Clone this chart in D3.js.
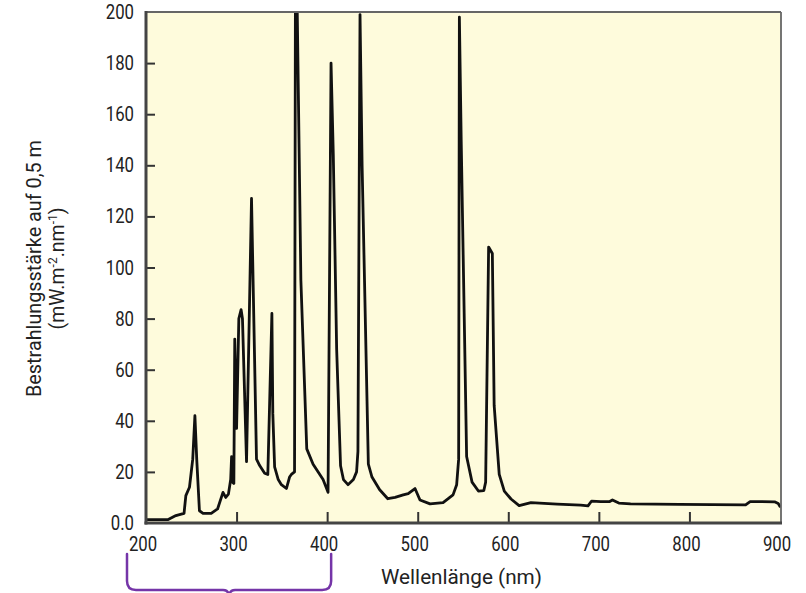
<!DOCTYPE html>
<html>
<head>
<meta charset="utf-8">
<script src="https://cdn.jsdelivr.net/npm/d3@7"></script>
<style>
  html, body { margin: 0; padding: 0; background: #ffffff; }
  svg { display: block; }
  text { font-family: "Roboto", "Liberation Sans", sans-serif; fill: #222; }
</style>
</head>
<body>
<svg id="chart" width="806" height="593"></svg>
<script>
// ---- data ----
const wavelength = [200, 224, 233, 242, 244, 248, 251.6, 254, 256, 259, 263, 272, 279, 285, 288, 291,
  293.5, 294.5, 295.5, 297, 298, 300, 302.5, 305, 306.5, 311, 316.5, 322, 325.5, 331, 334.5,
  339, 340, 342, 346, 349.5, 355, 358.5, 360.5, 364, 365, 367, 371, 377.5, 384.5, 395.5, 401,
  404.3, 406.8, 410.5, 414.8, 418, 423, 429, 432.5, 434, 436.3, 438.6, 445.5, 449.5, 458, 467,
  475, 484, 489.5, 497, 502.5, 513.6, 528, 539, 543, 545.2, 546, 548, 554, 560, 567, 573, 575,
  578.3, 582.4, 584.4, 590, 595.6, 603, 612, 625, 654, 680, 688, 692, 702, 712, 715, 722, 735,
  789, 862, 867, 894, 898, 900];
const irradiance = [1.3, 1.3, 2.9, 3.8, 10.7, 14, 25, 42, 25, 4.8, 3.8, 3.8, 5.5, 12, 10, 11.3,
  17, 26, 16, 15.5, 72, 37, 80, 83.5, 80, 24, 127, 25, 22.5, 19.5, 19,
  82, 43, 22, 17, 15, 13.5, 18, 19, 20, 212, 200, 95, 29, 23, 17, 12,
  180, 144, 68, 22.4, 17, 15, 17, 20, 28, 199, 140, 23, 18, 13, 9.5,
  10, 11, 11.5, 13.5, 9, 7.5, 8, 11, 15, 25, 198, 150, 26, 16, 12.5, 12.7, 16,
  108, 105.5, 46, 19, 12.5, 9.4, 6.8, 8, 7.4, 7, 6.7, 8.6, 8.4, 8.4, 9, 7.8, 7.5,
  7.3, 7.1, 8.4, 8.3, 7.6, 6.5];
const xTickValues = [200, 300, 400, 500, 600, 700, 800, 900];
const yTickValues = [0, 20, 40, 60, 80, 100, 120, 140, 160, 180, 200];
const xTitle = "Wellenlänge (nm)";
const yTitleLine1 = "Bestrahlungsstärke auf 0,5 m";

// ---- layout ----
const svg = d3.select("#chart");
const pL = 146, pR = 780, pT = 12, pB = 523;
const x = d3.scaleLinear().domain([200, 900]).range([pL, pR]);
const y = d3.scaleLinear().domain([0, 200]).range([pB, pT]);

// plot background
svg.append("rect")
  .attr("x", pL).attr("y", pT)
  .attr("width", pR + 1 - pL).attr("height", pB - pT)
  .attr("fill", "#fefbdc");

// clip path
svg.append("clipPath").attr("id", "clip")
  .append("rect").attr("x", pL).attr("y", pT)
  .attr("width", pR + 1 - pL).attr("height", pB - pT);

// curve
const pts = wavelength.map((w, i) => [w, irradiance[i]]);
const line = d3.line().x(d => x(d[0])).y(d => y(d[1]));
svg.append("path")
  .datum(pts)
  .attr("clip-path", "url(#clip)")
  .attr("d", line)
  .attr("fill", "none")
  .attr("stroke", "#111")
  .attr("stroke-width", 2.8)
  .attr("stroke-linejoin", "round")
  .attr("stroke-linecap", "round");

// y-axis ticks (inward) and labels
const yAxis = d3.axisRight(y).tickValues(yTickValues.filter(v => v > 0 && v < 200))
  .tickSize(9).tickFormat("");
const yg = svg.append("g").attr("transform", `translate(${pL},0)`).call(yAxis);
yg.select(".domain").remove();
yg.selectAll("line").attr("stroke", "#333").attr("stroke-width", 2);

svg.append("g").selectAll("text")
  .data(yTickValues)
  .join("text")
  .attr("transform", d => `translate(134,${y(d)}) scale(0.86,1)`)
  .attr("dy", "0.36em")
  .attr("text-anchor", "end")
  .attr("font-size", 19.5)
  .text(d => d === 0 ? "0.0" : d);

// x-axis ticks (inward) and labels
const xAxis = d3.axisTop(x).tickValues(xTickValues.filter(v => v > 200 && v < 900))
  .tickSize(11).tickFormat("");
const xg = svg.append("g").attr("transform", `translate(0,${pB})`).call(xAxis);
xg.select(".domain").remove();
xg.selectAll("line").attr("stroke", "#333").attr("stroke-width", 2);

svg.append("g").selectAll("text")
  .data(xTickValues)
  .join("text")
  .attr("transform", d => `translate(${x(d) - 3},551) scale(0.86,1)`)
  .attr("text-anchor", "middle")
  .attr("font-size", 19.5)
  .text(d => d);

// frame
svg.append("line").attr("x1", pL).attr("x2", pR + 1).attr("y1", pT).attr("y2", pT)
  .attr("stroke", "#666").attr("stroke-width", 1.8);
svg.append("line").attr("x1", pR + 1).attr("x2", pR + 1).attr("y1", pT).attr("y2", pB)
  .attr("stroke", "#666").attr("stroke-width", 1.8);
svg.append("line").attr("x1", pL).attr("x2", pL).attr("y1", pT - 1).attr("y2", pB + 1.5)
  .attr("stroke", "#444").attr("stroke-width", 3);
svg.append("line").attr("x1", pL - 1.5).attr("x2", pR + 2).attr("y1", pB).attr("y2", pB)
  .attr("stroke", "#444").attr("stroke-width", 3);

// axis titles
svg.append("text")
  .attr("x", 461.5).attr("y", 584)
  .attr("text-anchor", "middle")
  .attr("font-size", 20)
  .attr("textLength", 161)
  .attr("lengthAdjust", "spacingAndGlyphs")
  .text(xTitle);

const yt = svg.append("g")
  .attr("transform", "translate(41,268.5) rotate(-90)");
yt.append("text")
  .attr("x", 0).attr("y", 0)
  .attr("text-anchor", "middle")
  .attr("font-size", 19.5)
  .attr("textLength", 257)
  .attr("lengthAdjust", "spacingAndGlyphs")
  .text(yTitleLine1);
const l2 = yt.append("text")
  .attr("x", 0).attr("y", 23)
  .attr("text-anchor", "middle")
  .attr("font-size", 19.5);
l2.append("tspan").text("(mW.m");
l2.append("tspan").attr("dy", -7).attr("font-size", 12).text("-2");
l2.append("tspan").attr("dy", 7).text(".nm");
l2.append("tspan").attr("dy", -7).attr("font-size", 12).text("-1");
l2.append("tspan").attr("dy", 7).text(")");

// purple brace under 200-400 nm
const bx0 = x(200) - 19, bx1 = x(400) + 4, by0 = 554, by1 = 590;
const bmid = (bx0 + bx1) / 2;
const brace = d3.path();
brace.moveTo(bx0, by0);
brace.lineTo(bx0, by1 - 9);
brace.quadraticCurveTo(bx0, by1, bx0 + 9, by1);
brace.lineTo(bmid - 6, by1);
brace.quadraticCurveTo(bmid - 1, by1, bmid, by1 + 5);
brace.quadraticCurveTo(bmid + 1, by1, bmid + 6, by1);
brace.lineTo(bx1 - 9, by1);
brace.quadraticCurveTo(bx1, by1, bx1, by1 - 9);
brace.lineTo(bx1, by0);
svg.append("path")
  .attr("d", brace.toString())
  .attr("fill", "none")
  .attr("stroke", "#7535a8")
  .attr("stroke-width", 2.5)
  .attr("stroke-linecap", "round");
</script>
</body>
</html>
